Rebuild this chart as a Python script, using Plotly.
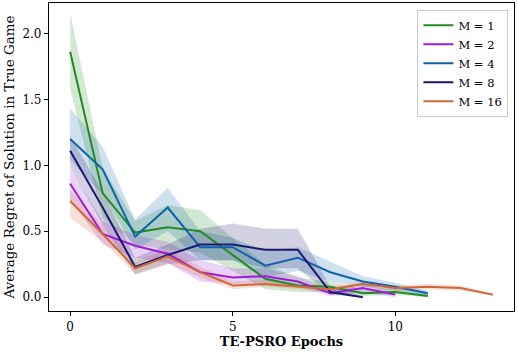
import plotly.graph_objects as go

epochs = list(range(14))

# mean regret per epoch
m1 = [1.86, 0.79, 0.49, 0.53, 0.50, 0.32, 0.14, 0.09, 0.08, 0.03, 0.04, 0.01]
m2 = [0.86, 0.48, 0.39, 0.33, 0.19, 0.15, 0.16, 0.12, 0.03, 0.07, 0.02]
m4 = [1.20, 0.97, 0.46, 0.68, 0.38, 0.38, 0.24, 0.30, 0.19, 0.12, 0.08, 0.03]
m8 = [1.11, 0.68, 0.23, 0.32, 0.40, 0.40, 0.36, 0.36, 0.04, 0.00]
m16 = [0.73, 0.48, 0.22, 0.31, 0.19, 0.09, 0.10, 0.08, 0.06, 0.10, 0.07, 0.08, 0.07, 0.02]

# shaded band edges
m1_hi = [2.15, 0.98, 0.58, 0.70, 0.66, 0.45, 0.25, 0.15, 0.12, 0.06, 0.07, 0.03]
m1_lo = [1.58, 0.60, 0.40, 0.36, 0.34, 0.20, 0.06, 0.04, 0.04, 0.01, 0.02, 0.00]
m2_hi = [0.97, 0.58, 0.47, 0.42, 0.28, 0.22, 0.22, 0.16, 0.06, 0.10, 0.04]
m2_lo = [0.74, 0.40, 0.30, 0.26, 0.12, 0.10, 0.11, 0.08, 0.01, 0.04, 0.00]
m4_hi = [1.43, 1.14, 0.59, 0.83, 0.50, 0.45, 0.35, 0.38, 0.27, 0.16, 0.11, 0.05]
m4_lo = [1.04, 0.78, 0.36, 0.50, 0.28, 0.28, 0.15, 0.20, 0.12, 0.08, 0.05, 0.01]
m8_hi = [1.22, 0.80, 0.30, 0.40, 0.52, 0.56, 0.52, 0.52, 0.08, 0.01]
m8_lo = [0.98, 0.55, 0.17, 0.25, 0.28, 0.28, 0.22, 0.22, 0.02, 0.00]
m16_hi = [0.81, 0.55, 0.27, 0.36, 0.23, 0.12, 0.13, 0.10, 0.08, 0.12, 0.09, 0.10, 0.09, 0.03]
m16_lo = [0.60, 0.42, 0.18, 0.26, 0.15, 0.06, 0.08, 0.06, 0.04, 0.08, 0.05, 0.06, 0.05, 0.01]

series = [
    ("M = 1", m1, m1_lo, m1_hi, "34,139,34"),
    ("M = 2", m2, m2_lo, m2_hi, "155,30,214"),
    ("M = 4", m4, m4_lo, m4_hi, "16,98,170"),
    ("M = 8", m8, m8_lo, m8_hi, "25,25,112"),
    ("M = 16", m16, m16_lo, m16_hi, "208,105,58"),
]

font_name = "DejaVu Serif"

fig = go.Figure()

# shaded bands first so all lines sit on top
for name, mean, lo, hi, rgb in series:
    x = epochs[:len(mean)]
    fig.add_trace(go.Scatter(
        x=x + x[::-1], y=hi + lo[::-1],
        fill="toself", fillcolor=f"rgba({rgb},0.2)",
        line=dict(width=0), mode="lines",
        showlegend=False, hoverinfo="skip",
    ))

for name, mean, lo, hi, rgb in series:
    x = epochs[:len(mean)]
    fig.add_trace(go.Scatter(
        x=x, y=mean, mode="lines", name=name,
        line=dict(color=f"rgb({rgb})", width=2),
    ))

fig.update_layout(
    width=518, height=355,
    margin=dict(l=49, r=4, t=3, b=44),
    plot_bgcolor="white", paper_bgcolor="white",
    font=dict(family=font_name, size=12, color="black"),
    showlegend=True,
    legend=dict(
        x=0.988, y=0.978, xanchor="right", yanchor="top",
        bordercolor="#cccccc", borderwidth=1, bgcolor="rgba(255,255,255,0.8)",
        font=dict(size=11.5), tracegroupgap=0,
    ),
    xaxis=dict(
        range=[-0.65, 13.65], tickvals=[0, 5, 10],
        showgrid=False, zeroline=False, automargin=False,
        showline=True, linecolor="black", linewidth=1.2, mirror=True,
        ticks="outside", ticklen=4, tickcolor="black",
        title=dict(text="<b>TE-PSRO Epochs</b>", standoff=4, font=dict(size=13)),
    ),
    yaxis=dict(
        range=[-0.104, 2.23], tickvals=[0, 0.5, 1.0, 1.5, 2.0],
        tickformat=".1f",
        showgrid=False, zeroline=False, automargin=False,
        showline=True, linecolor="black", linewidth=1.2, mirror=True,
        ticks="outside", ticklen=4, tickcolor="black",
        title=dict(text="Average Regret of Solution in True Game", standoff=4, font=dict(size=13.5)),
    ),
)

# the page body has an 8px default margin; drop it so the figure sits at the corner
fig.write_html("out.html", config={"displayModeBar": False},
               post_script="document.body.style.margin='0';")
